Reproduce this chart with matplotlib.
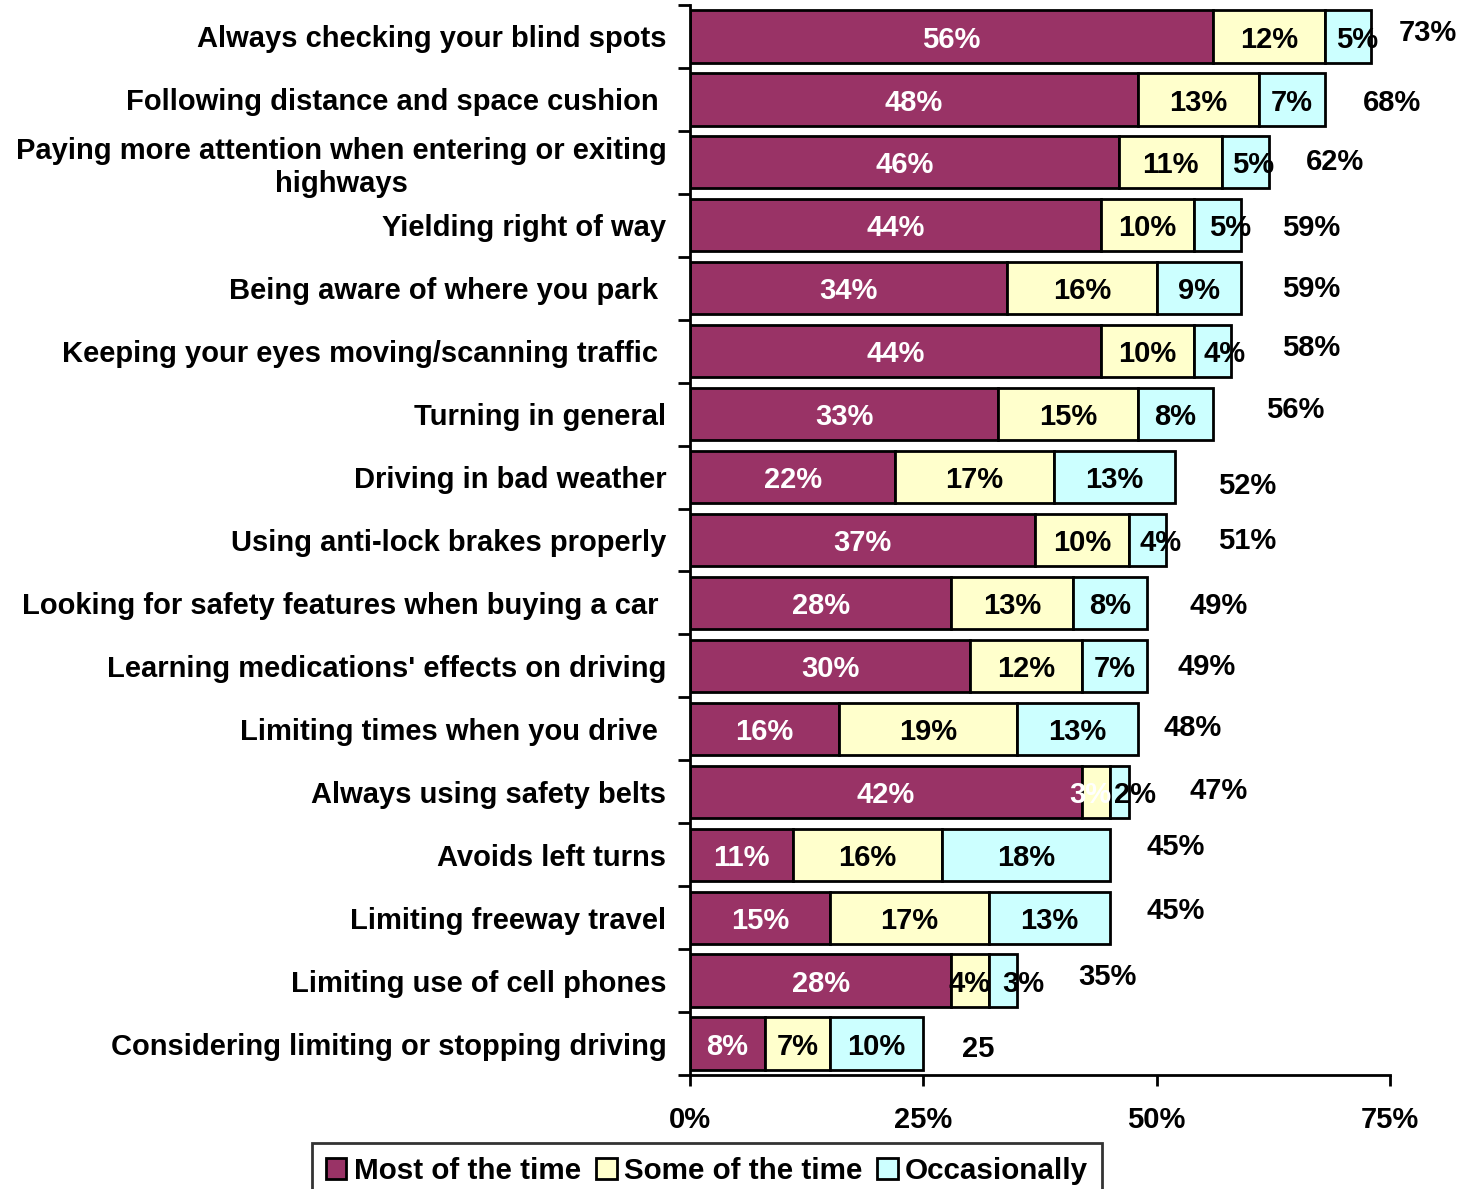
#!/usr/bin/env python3
"""Stacked horizontal bars: how often drivers adopt each safe-driving practice."""

import matplotlib.pyplot as plt
from matplotlib.patches import Patch

plt.rcParams["font.family"] = ["Liberation Sans", "DejaVu Sans"]
plt.rcParams["font.weight"] = "bold"

categories = [
    "Always checking your blind spots",
    "Following distance and space cushion ",
    "Paying more attention when entering or exiting\nhighways",
    "Yielding right of way",
    "Being aware of where you park ",
    "Keeping your eyes moving/scanning traffic ",
    "Turning in general",
    "Driving in bad weather",
    "Using anti-lock brakes properly",
    "Looking for safety features when buying a car ",
    "Learning medications' effects on driving",
    "Limiting times when you drive ",
    "Always using safety belts",
    "Avoids left turns",
    "Limiting freeway travel",
    "Limiting use of cell phones",
    "Considering limiting or stopping driving",
]
most = [56, 48, 46, 44, 34, 44, 33, 22, 37, 28, 30, 16, 42, 11, 15, 28, 8]
some = [12, 13, 11, 10, 16, 10, 15, 17, 10, 13, 12, 19, 3, 16, 17, 4, 7]
occasionally = [5, 7, 5, 5, 9, 4, 8, 13, 4, 8, 7, 13, 2, 18, 13, 3, 10]
totals = ["73%", "68%", "62%", "59%", "59%", "58%", "56%", "52%", "51%",
          "49%", "49%", "48%", "47%", "45%", "45%", "35%", "25"]
series_names = ["Most of the time", "Some of the time", "Occasionally"]

colors = ["#993366", "#FFFFCC", "#CCFFFF"]
text_colors = ["white", "black", "black"]
# hand nudges for the total labels (x in percent points, y in row units)
total_dx = [6.0, 7.2, 7.1, 7.5, 7.5, 8.5, 8.8, 7.7, 8.7, 7.6, 6.4, 5.8, 9.6, 7.0, 7.0, 9.7, 5.9]
total_dy = [-0.10, 0.0, -0.05, 0.0, -0.03, -0.10, -0.11, 0.10, -0.03, 0.0,
            -0.03, -0.06, -0.06, -0.17, -0.16, -0.11, 0.03]
# small segment labels sit a little right of their segment centre
seg_dx = {(0, 2): 1.0, (2, 2): 0.8, (3, 2): 1.4, (5, 2): 1.3, (8, 2): 1.4,
          (12, 1): -0.6, (12, 2): 1.7, (15, 2): 2.2}

fig = plt.figure(figsize=(14.73, 11.89), dpi=100)
ax = fig.add_axes([0.4684, 0.0959, 0.4753, 0.8999])

n = len(categories)
ypos = list(range(n))
fs = 21
text_dy = 0.05

left = [0] * n
for k, (series, color, tcolor) in enumerate(zip([most, some, occasionally], colors, text_colors)):
    ax.barh(ypos, series, left=left, height=0.83, color=color,
            edgecolor="black", linewidth=2)
    for i, (v, l) in enumerate(zip(series, left)):
        c = tcolor
        # the tiny belt segment label is drawn white over the maroon bar
        if i == 12 and k == 1:
            c = "white"
        ax.text(l + v / 2 + seg_dx.get((i, k), 0), i + text_dy, f"{v}%",
                ha="center", va="center", fontsize=fs, fontweight="bold", color=c)
    left = [a + b for a, b in zip(left, series)]

for i, (t, tot) in enumerate(zip(totals, left)):
    ax.text(tot + total_dx[i], i + total_dy[i] + text_dy, t, ha="center", va="center",
            fontsize=fs, fontweight="bold", color="black")

ax.set_ylim(n - 0.5, -0.5)
ax.set_xlim(0, 75)
ax.set_yticks(ypos)
ax.set_yticklabels(categories, fontsize=fs, fontweight="bold",
                   multialignment="center")
ax.tick_params(axis="y", length=0, pad=17)
ax.set_yticks([y - 0.5 for y in range(n + 1)], minor=True)
ax.tick_params(axis="y", which="minor", length=9, width=2)

ax.set_xticks([0, 25, 50, 75])
ax.set_xticklabels(["0%", "25%", "50%", "75%"], fontsize=fs, fontweight="bold")
ax.tick_params(axis="x", length=8, width=2, pad=14)

for side in ("top", "right"):
    ax.spines[side].set_visible(False)
for side in ("left", "bottom"):
    ax.spines[side].set_linewidth(2)

handles = [Patch(facecolor=c, edgecolor="black", linewidth=2) for c in colors]
leg = fig.legend(handles, series_names, loc="upper center",
                 bbox_to_anchor=(0.480, 0.0385), ncol=3, fontsize=21.3,
                 frameon=True, fancybox=False, edgecolor="black",
                 handlelength=0.7, handleheight=0.7, handletextpad=0.25,
                 columnspacing=0.5, borderpad=0.45, borderaxespad=0)
leg.get_frame().set_linewidth(2)

fig.savefig("out.png", dpi=100)
